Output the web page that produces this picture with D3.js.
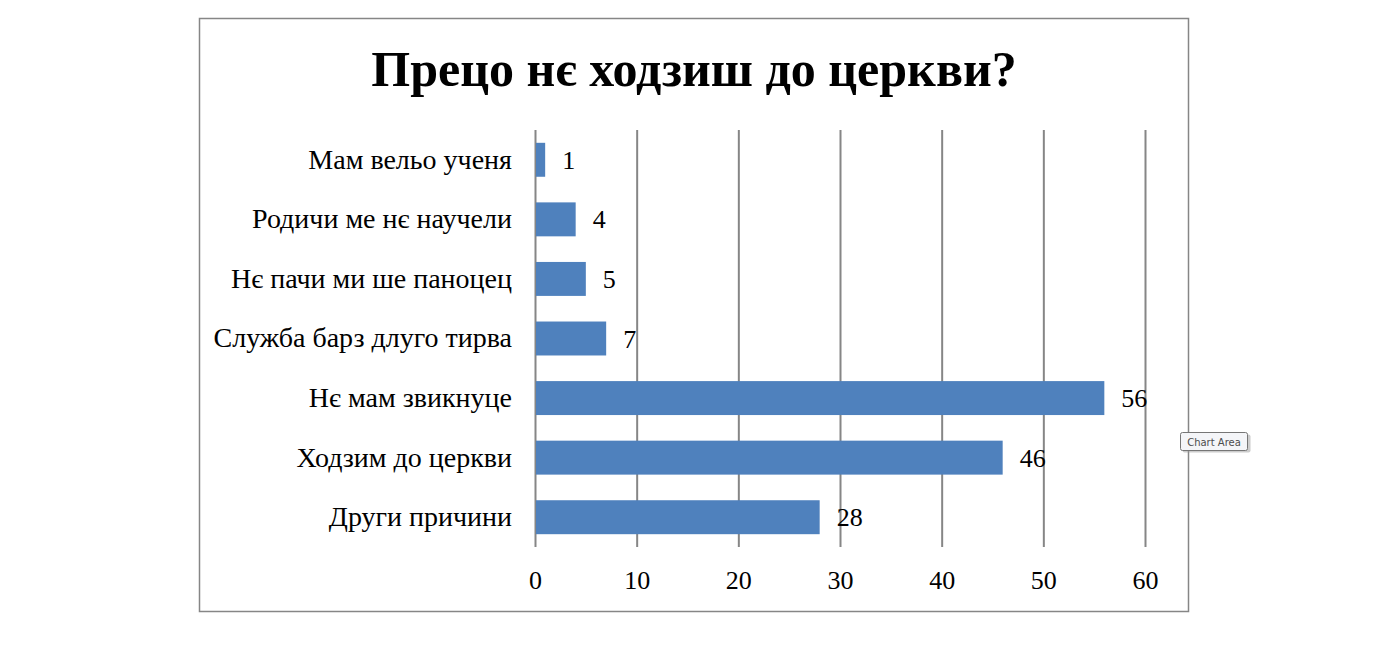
<!DOCTYPE html>
<html>
<head>
<meta charset="utf-8">
<script src="https://cdn.jsdelivr.net/npm/d3@7"></script>
<style>
  body { margin: 0; background: #fff; }
  svg { display: block; }
</style>
</head>
<body>
<svg id="chart" width="1400" height="647"></svg>
<script>
// data, top to bottom as shown
var categories = ["Мам вельо ученя", "Родичи ме нє научели", "Нє пачи ми ше паноцец",
                  "Служба барз длуго тирва", "Нє мам звикнуце", "Ходзим до церкви", "Други причини"];
var counts = [1, 4, 5, 7, 56, 46, 28];
var xTicks = [0, 10, 20, 30, 40, 50, 60];
var title = "Прецо нє ходзиш до церкви?";

var svg = d3.select("#chart");
var serif = "'Liberation Serif', 'Times New Roman', serif";

// chart area frame
svg.append("rect")
    .attr("x", 199.5).attr("y", 18.5)
    .attr("width", 989).attr("height", 593)
    .attr("fill", "#fff")
    .attr("stroke", "#868686")
    .attr("stroke-width", 1.5);

svg.append("text")
    .attr("x", 694).attr("y", 86)
    .attr("text-anchor", "middle")
    .attr("font-family", serif)
    .attr("font-weight", "bold")
    .attr("font-size", 50)
    .text(title);

var margin = { left: 535, right: 255, top: 130, bottom: 100 };
var plotW = 1400 - margin.left - margin.right;   // 610
var plotH = 647 - margin.top - margin.bottom;    // 417

var xScale = d3.scaleLinear().domain([0, 60]).range([0, plotW]);
var yScale = d3.scaleBand().domain(categories).range([0, plotH]).paddingInner(0.43).paddingOuter(0.215);

var g = svg.append("g").attr("transform", "translate(" + margin.left + "," + margin.top + ")");

// vertical gridlines
g.append("g")
    .attr("class", "grid")
    .call(d3.axisBottom(xScale).tickValues(xTicks).tickSize(plotH).tickFormat(""))
    .call(g => g.select(".domain").remove())
    .call(g => g.selectAll(".tick line").attr("stroke", "#868686").attr("stroke-width", 2));

// bars
g.append("g")
    .attr("class", "bars")
    .selectAll("rect")
    .data(counts)
    .enter()
    .append("rect")
    .attr("x", xScale(0) + 1)
    .attr("y", (d, i) => yScale(categories[i]))
    .attr("width", d => xScale(d) - 1)
    .attr("height", yScale.bandwidth())
    .attr("fill", "#4f81bd");

// value labels
g.append("g")
    .selectAll("text")
    .data(counts)
    .enter()
    .append("text")
    .attr("x", d => xScale(d) + 17)
    .attr("y", (d, i) => yScale(categories[i]) + yScale.bandwidth() / 2)
    .attr("dy", "0.35em")
    .attr("font-family", serif)
    .attr("font-size", 26)
    .text(d => d);

// category axis
g.append("g")
    .attr("class", "y axis")
    .call(d3.axisLeft(yScale).tickSize(0).tickPadding(23))
    .call(g => g.select(".domain").remove())
    .call(g => g.selectAll(".tick text")
        .attr("font-family", serif)
        .attr("font-size", 28)
        .attr("fill", "#000"));

// value axis labels
g.append("g")
    .attr("class", "x axis")
    .attr("transform", "translate(0," + plotH + ")")
    .call(d3.axisBottom(xScale).tickValues(xTicks).tickSize(0).tickPadding(24))
    .call(g => g.select(".domain").remove())
    .call(g => g.selectAll(".tick text")
        .attr("font-family", serif)
        .attr("font-size", 26)
        .attr("fill", "#000"));

// "Chart Area" tooltip
var tip = svg.append("g").attr("transform", "translate(1180.5,432.5)");
tip.append("rect")
    .attr("x", 2).attr("y", 2).attr("width", 68).attr("height", 18).attr("rx", 2)
    .attr("fill", "#999").attr("opacity", 0.5);
tip.append("rect")
    .attr("width", 67).attr("height", 18).attr("rx", 2)
    .attr("fill", "#f4f5f8").attr("stroke", "#767676");
tip.append("text")
    .attr("x", 33.5).attr("y", 13)
    .attr("text-anchor", "middle")
    .attr("font-family", "'DejaVu Sans', 'Noto Sans', sans-serif")
    .attr("font-size", 10)
    .attr("fill", "#4c4c4c")
    .text("Chart Area");
</script>
</body>
</html>
